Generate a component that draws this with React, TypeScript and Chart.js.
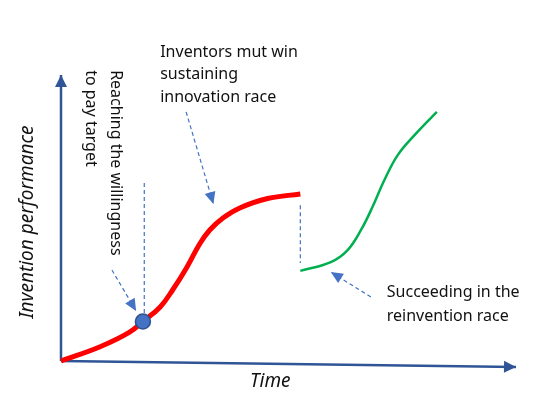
import { useEffect, useRef } from 'react';
import { Chart, registerables } from 'chart.js';

Chart.register(...registerables);

// arbitrary units: time 0..10, performance 0..10
const sustainingCurve = [
  { x: 0, y: 0 },
  { x: 0.86, y: 0.5 },
  { x: 1.5, y: 1.0 },
  { x: 1.8, y: 1.38 },
  { x: 2.18, y: 1.89 },
  { x: 2.46, y: 2.5 },
  { x: 2.77, y: 3.29 },
  { x: 3.05, y: 4.1 },
  { x: 3.27, y: 4.58 },
  { x: 3.56, y: 5.0 },
  { x: 3.93, y: 5.35 },
  { x: 4.54, y: 5.68 },
  { x: 5.26, y: 5.84 },
];

const reinventionCurve = [
  { x: 5.26, y: 3.15 },
  { x: 5.93, y: 3.46 },
  { x: 6.3, y: 3.88 },
  { x: 6.6, y: 4.6 },
  { x: 6.85, y: 5.4 },
  { x: 7.1, y: 6.3 },
  { x: 7.4, y: 7.2 },
  { x: 7.8, y: 7.95 },
  { x: 8.26, y: 8.71 },
];

const wtpPoint = [{ x: 1.8, y: 1.38 }];

const yAxisLine = [{ x: 0, y: 0 }, { x: 0, y: 10 }];
const xAxisLine = [{ x: 0, y: 0 }, { x: 10, y: -0.21 }];

const dropLine1 = [{ x: 1.83, y: 6.22 }, { x: 1.83, y: 1.68 }];
const dropLine2 = [{ x: 5.26, y: 5.45 }, { x: 5.26, y: 3.43 }];

const arrowSustaining = [{ x: 2.75, y: 8.71 }, { x: 3.35, y: 5.49 }];
const arrowWtp = [{ x: 1.12, y: 3.18 }, { x: 1.65, y: 1.75 }];
const arrowReinvention = [{ x: 6.81, y: 2.24 }, { x: 5.93, y: 3.11 }];

const sustainingLabel = ['Inventors mut win', 'sustaining', 'innovation race'];
const wtpLabel = ['Reaching the willingness', 'to pay target'];
const reinventionLabel = ['Succeeding in the', 'reinvention race'];
const yTitle = 'Invention performance';
const xTitle = 'Time';

const FONT = '"Noto Sans", "Open Sans", sans-serif';
const AXIS_BLUE = '#2F5597';
const DASH_BLUE = '#4472C4';

// arrow heads at the end of datasets flagged with arrowHead
const arrowPlugin = {
  id: 'arrowHeads',
  afterDatasetsDraw(chart: any) {
    const ctx = chart.ctx;
    chart.data.datasets.forEach((ds: any, i: number) => {
      if (!ds.arrowHead) return;
      const pts = chart.getDatasetMeta(i).data;
      const a = pts[pts.length - 2];
      const b = pts[pts.length - 1];
      const ang = Math.atan2(b.y - a.y, b.x - a.x);
      const len = ds.arrowHead.len;
      const half = ds.arrowHead.width / 2;
      ctx.save();
      ctx.translate(b.x, b.y);
      ctx.rotate(ang);
      ctx.beginPath();
      ctx.moveTo(0, 0);
      ctx.lineTo(-len, -half);
      ctx.lineTo(-len, half);
      ctx.closePath();
      ctx.fillStyle = ds.borderColor;
      ctx.fill();
      ctx.restore();
    });
  },
};

const textPlugin = {
  id: 'textLabels',
  afterDraw(chart: any) {
    const { ctx, scales } = chart;
    const px = (v: number) => scales.x.getPixelForValue(v);
    const py = (v: number) => scales.y.getPixelForValue(v);
    ctx.save();
    ctx.fillStyle = '#111';
    ctx.textBaseline = 'middle';

    ctx.font = `16px ${FONT}`;
    ctx.textAlign = 'left';
    sustainingLabel.forEach((t, i) => ctx.fillText(t, px(2.18), py(10.8) + i * 22.5));
    reinventionLabel.forEach((t, i) => ctx.fillText(t, px(7.16), py(2.38) + i * 24));

    // rotated annotation, read top to bottom
    ctx.save();
    ctx.translate(px(1.19), py(10.17));
    ctx.rotate(Math.PI / 2);
    ctx.textAlign = 'left';
    wtpLabel.forEach((t, i) => ctx.fillText(t, 0, i * 25));
    ctx.restore();

    ctx.font = `italic 19px ${FONT}`;
    ctx.textAlign = 'center';
    ctx.save();
    ctx.translate(28, py(4.86));
    ctx.rotate(-Math.PI / 2);
    ctx.fillText(yTitle, 0, 0);
    ctx.restore();
    ctx.fillText(xTitle, px(4.6), 382);
    ctx.restore();
  },
};

export default function App() {
  const canvasRef = useRef<HTMLCanvasElement>(null);
  const chartRef = useRef<Chart | null>(null);

  useEffect(() => {
    if (!canvasRef.current) return;
    if (chartRef.current) chartRef.current.destroy();

    const line = (data: any[], color: string, width: number, extra: any = {}) => ({
      data,
      borderColor: color,
      backgroundColor: color,
      borderWidth: width,
      showLine: true,
      pointRadius: 0,
      clip: false,
      ...extra,
    });

    // earlier datasets are painted on top
    chartRef.current = new Chart(canvasRef.current, {
      type: 'scatter',
      data: {
        datasets: [
          {
            data: wtpPoint,
            showLine: false,
            pointRadius: 7.5,
            pointBackgroundColor: '#4472C4',
            pointBorderColor: '#2F528F',
            pointBorderWidth: 1.5,
            clip: false,
          },
          line(sustainingCurve, '#FF0000', 5, { tension: 0.4, borderCapStyle: 'butt' }),
          line(reinventionCurve, '#00B050', 2.5, { tension: 0.4 }),
          line(dropLine1, DASH_BLUE, 1.2, { borderDash: [4, 3] }),
          line(dropLine2, DASH_BLUE, 1.2, { borderDash: [4, 3] }),
          line(arrowSustaining, DASH_BLUE, 1.2, { borderDash: [4, 3], arrowHead: { len: 12, width: 11 } }),
          line(arrowWtp, DASH_BLUE, 1.2, { borderDash: [4, 3], arrowHead: { len: 12, width: 11 } }),
          line(arrowReinvention, DASH_BLUE, 1.2, { borderDash: [4, 3], arrowHead: { len: 12, width: 11 } }),
          line(yAxisLine, AXIS_BLUE, 2.5, { arrowHead: { len: 12, width: 12 } }),
          line(xAxisLine, AXIS_BLUE, 2.5, { arrowHead: { len: 12, width: 12 } }),
        ] as any,
      },
      options: {
        animation: false,
        responsive: false,
        events: [],
        layout: { padding: { left: 61, right: 44, top: 75, bottom: 59 } },
        plugins: { legend: { display: false }, tooltip: { enabled: false } },
        scales: {
          x: { type: 'linear', min: 0, max: 10, display: false },
          y: { type: 'linear', min: 0, max: 10, display: false },
        },
      },
      plugins: [arrowPlugin, textPlugin],
    });

    return () => {
      if (chartRef.current) {
        chartRef.current.destroy();
        chartRef.current = null;
      }
    };
  }, []);

  return (
    <div style={{ position: 'fixed', left: 0, top: 0, width: 560, height: 420, background: '#fff' }}>
      <canvas ref={canvasRef} width={560} height={420} />
    </div>
  );
}
